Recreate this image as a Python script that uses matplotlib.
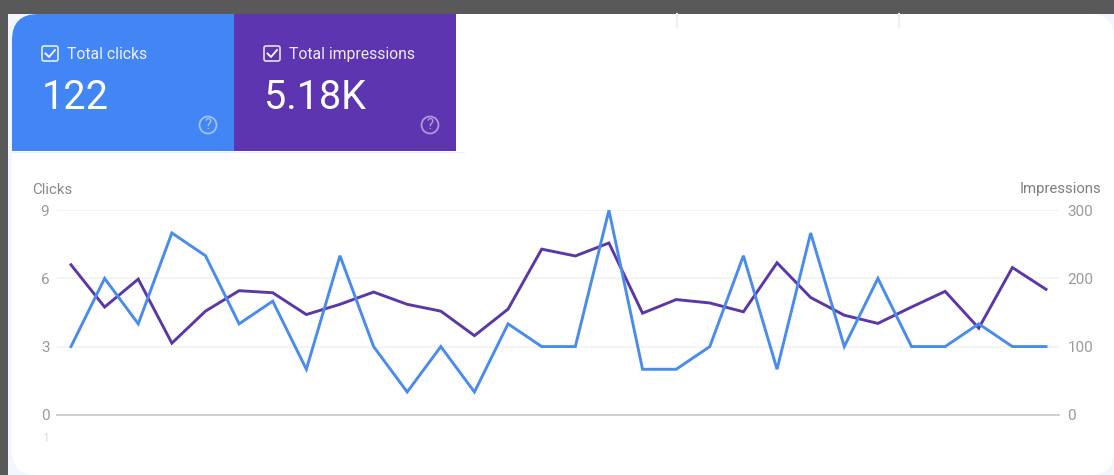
import matplotlib
matplotlib.use("Agg")
import matplotlib.pyplot as plt
from matplotlib.patches import FancyBboxPatch, Rectangle, Circle, PathPatch
from matplotlib.path import Path

plt.rcParams['font.family'] = ['Roboto', 'DejaVu Sans']

clicks = [3, 6, 4, 8, 7, 4, 5, 2, 7, 3, 1, 3, 1, 4, 3, 3, 9, 2, 2, 3, 7, 2, 8, 3, 6, 3, 3, 4, 3, 3]
impressions = [220, 158, 199, 105, 152, 182, 179, 147, 162, 180, 162, 152, 116, 155, 243,
               233, 252, 149, 169, 164, 151, 223, 172, 146, 134, 158, 181, 127, 216, 184]
clicks_ticks = [0, 3, 6, 9]
impressions_ticks = [0, 100, 200, 300]
card_titles = ["Total clicks", "Total impressions"]
card_values = ["122", "5.18K"]

W, H = 1114, 475
BLUE, PURPLE = "#4285F4", "#5E35B1"
LINE_BLUE, LINE_PURPLE = "#4A8CEE", "#5B37A8"

fig = plt.figure(figsize=(W / 100, H / 100), dpi=100, facecolor="#595959")

# Pixel-coordinate layer for the screenshot furniture
bg = fig.add_axes([0, 0, 1, 1], zorder=0)
bg.set_xlim(0, W)
bg.set_ylim(H, 0)
bg.axis("off")

# Card: tinted rim, then white rounded body
bg.add_patch(Rectangle((8, 14), W, H, fc="#F3F6FE", ec="none", zorder=0.5))
bg.add_patch(FancyBboxPatch((12, 14), W - 12, H - 14,
                            boxstyle="round,pad=0,rounding_size=24",
                            fc="white", ec="none", zorder=0.7))

# Faint marks at the top edge
for px in (677, 899):
    bg.plot([px, px], [14, 27], color="#EFEFEF", lw=1.5, zorder=1)

# Metric tiles
top_left = Path([(12, 151), (12, 40), (12, 14), (38, 14), (234, 14), (234, 151), (12, 151)],
                [Path.MOVETO, Path.LINETO, Path.CURVE3, Path.CURVE3, Path.LINETO, Path.LINETO, Path.CLOSEPOLY])
bg.add_patch(PathPatch(top_left, fc=BLUE, ec="none", zorder=2))
bg.add_patch(Rectangle((234, 14), 222, 137, fc=PURPLE, ec="none", zorder=2))
bg.plot([12, 464], [151.5, 151.5], color="#EEF0F6", lw=0.8, zorder=1.5)

for x0, title, value in zip((42, 264), card_titles, card_values):
    bg.add_patch(FancyBboxPatch((x0, 46), 16, 15, boxstyle="round,pad=0,rounding_size=2",
                                fc="none", ec="white", lw=1.2, alpha=.85, zorder=3))
    bg.plot([x0 + 3.5, x0 + 7, x0 + 13], [53.5, 57, 50], color="white", lw=1.3, zorder=3)
    bg.text(x0 + 25, 54.5, title, color="white", fontsize=11.3, va="center", ha="left", alpha=.9, zorder=3)
    bg.text(x0, 97.5, value, color="white", fontsize=28.5, va="center", ha="left", zorder=3)
    bg.add_patch(Circle((x0 + 166, 125), 8.5, fc="none", ec="white", lw=1.3, alpha=.5, zorder=3))
    bg.text(x0 + 166, 125, "?", color="white", fontsize=10.5, alpha=.55, va="center", ha="center", zorder=3)

bg.text(32, 189.5, "Clicks", color="#8A8A8A", fontsize=10.8, va="center", ha="left", zorder=3)
bg.text(1101, 189.5, "Impressions", color="#7E7E7E", fontsize=10.7, va="center", ha="right", zorder=3)
bg.text(46, 439, "1", color="#DDDDDD", fontsize=9, va="center", ha="center", zorder=3)

# Chart axes: 57..1059 px wide, value 9 at y=210.3 and 0 at y=414.7
L, R, T, B = 57, 1059, 210.3, 414.7
rect = [L / W, 1 - B / H, (R - L) / W, (B - T) / H]
ax2 = fig.add_axes(rect, zorder=1)
ax = ax2.twinx()
ax.set_zorder(2)

# Data x: first point at 71 px, last at 1046 px
span = 29 / (1046 - 71)
xlim = (-(71 - L) * span, 29 + (R - 1046) * span)
xs = list(range(len(clicks)))

ax.plot(xs, clicks, color=LINE_BLUE, lw=2.1, solid_joinstyle="miter", clip_on=False, zorder=3)
ax2.plot(xs, impressions, color=LINE_PURPLE, lw=2.1, solid_joinstyle="miter", clip_on=False, zorder=3)

ax2.set_xlim(xlim)
ax2.set_ylim(0, 300)
ax.set_ylim(0, 9)
ax2.patch.set_visible(False)
ax.patch.set_visible(False)

ax.yaxis.tick_left()
ax2.yaxis.tick_right()
ax.set_yticks(clicks_ticks)
ax2.set_yticks(impressions_ticks)
ax2.set_xticks([])
ax.set_xticks([])
ax.tick_params(axis="y", length=0, pad=5.5, labelsize=11, labelcolor="#9A9A9A")
ax2.tick_params(axis="y", length=0, pad=6, labelsize=11, labelcolor="#9A9A9A")

ax2.grid(axis="y", color="#F1F1F1", lw=1.1, zorder=0)
ax2.set_axisbelow(True)
for a in (ax, ax2):
    for name, s in a.spines.items():
        s.set_visible(name == "bottom")
    a.spines["bottom"].set_color("#CFCFCF")
    a.spines["bottom"].set_linewidth(1.1)

fig.savefig("out.png", dpi=100, facecolor=fig.get_facecolor())
